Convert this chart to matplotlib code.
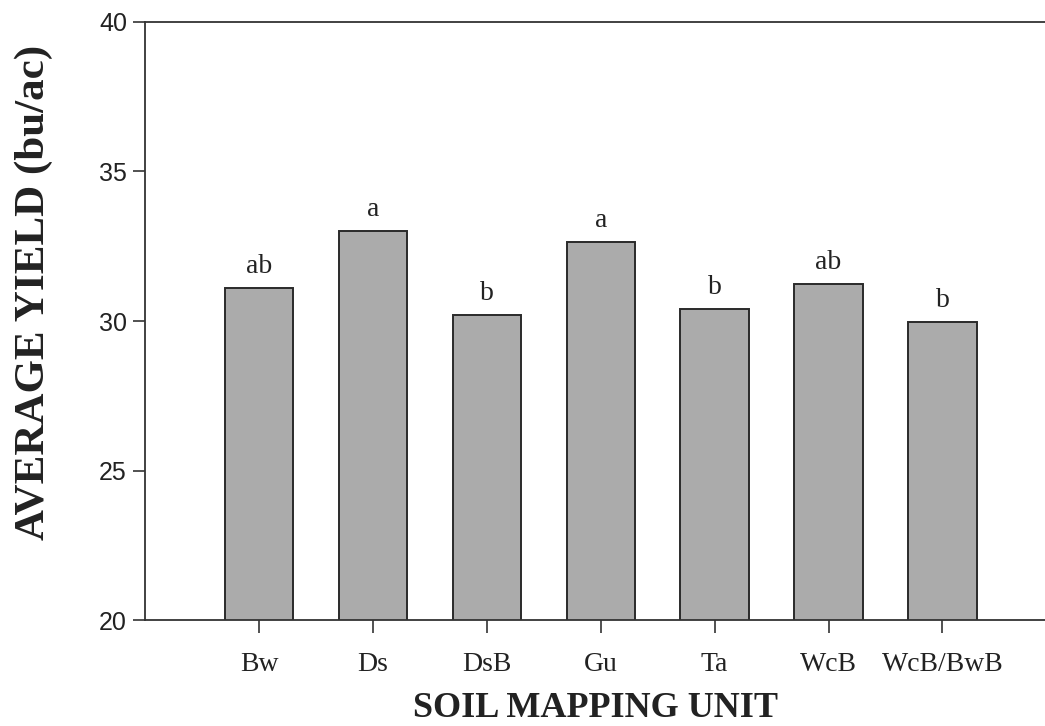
import numpy as np
import matplotlib.pyplot as plt

# soil mapping units and average yields
units = ['Bw', 'Ds', 'DsB', 'Gu', 'Ta', 'WcB', 'WcB/BwB']
yields = [31.1, 33.0, 30.2, 32.65, 30.4, 31.25, 29.97]
groups = ['ab', 'a', 'b', 'a', 'b', 'ab', 'b']
yticks = [20, 25, 30, 35, 40]

serif = 'Liberation Serif'
sans = 'Liberation Sans'
txt = '#222222'


def main():
    fig = plt.figure(figsize=(10.45, 7.26), dpi=100)
    ax = fig.add_axes([0.1388, 0.146, 0.8612, 0.8237])

    x = np.arange(len(units))
    ax.bar(x, yields, width=0.6, bottom=0, color='#ababab',
           edgecolor='#2a2a2a', linewidth=1.4, zorder=2)

    for xi, v, g in zip(x, yields, groups):
        ax.text(xi, v + 0.3, g, ha='center', va='bottom',
                fontsize=20, family=serif, color=txt)

    ax.set_ylim(20, 40)
    ax.set_xlim(-1, 6.9)
    ax.set_yticks(yticks)
    ax.set_yticklabels([str(t) for t in yticks], family=sans, fontsize=18, color=txt)
    ax.set_xticks(x)
    ax.set_xticklabels(units, family=serif, fontsize=20, color=txt)

    ax.tick_params(axis='y', direction='out', length=9, width=1.2, pad=4, colors='#333333')
    ax.tick_params(axis='x', direction='out', length=9, width=1.2, pad=14, colors='#333333')
    for lab in ax.get_xticklabels() + ax.get_yticklabels():
        lab.set_color(txt)

    for s in ['left', 'top', 'bottom']:
        ax.spines[s].set_linewidth(1.3)
        ax.spines[s].set_color('#333333')
    ax.spines['right'].set_visible(False)

    ax.set_xlabel('SOIL MAPPING UNIT', family=serif, fontsize=26,
                  fontweight='bold', color=txt)
    ax.xaxis.set_label_coords(0.5, -0.12)
    ax.set_ylabel('AVERAGE YIELD (bu/ac)', family=serif, fontsize=31,
                  fontweight='bold', color=txt)
    ax.yaxis.set_label_coords(-0.102, 0.548)

    fig.savefig('out.png', dpi=100)


if __name__ == '__main__':
    main()
